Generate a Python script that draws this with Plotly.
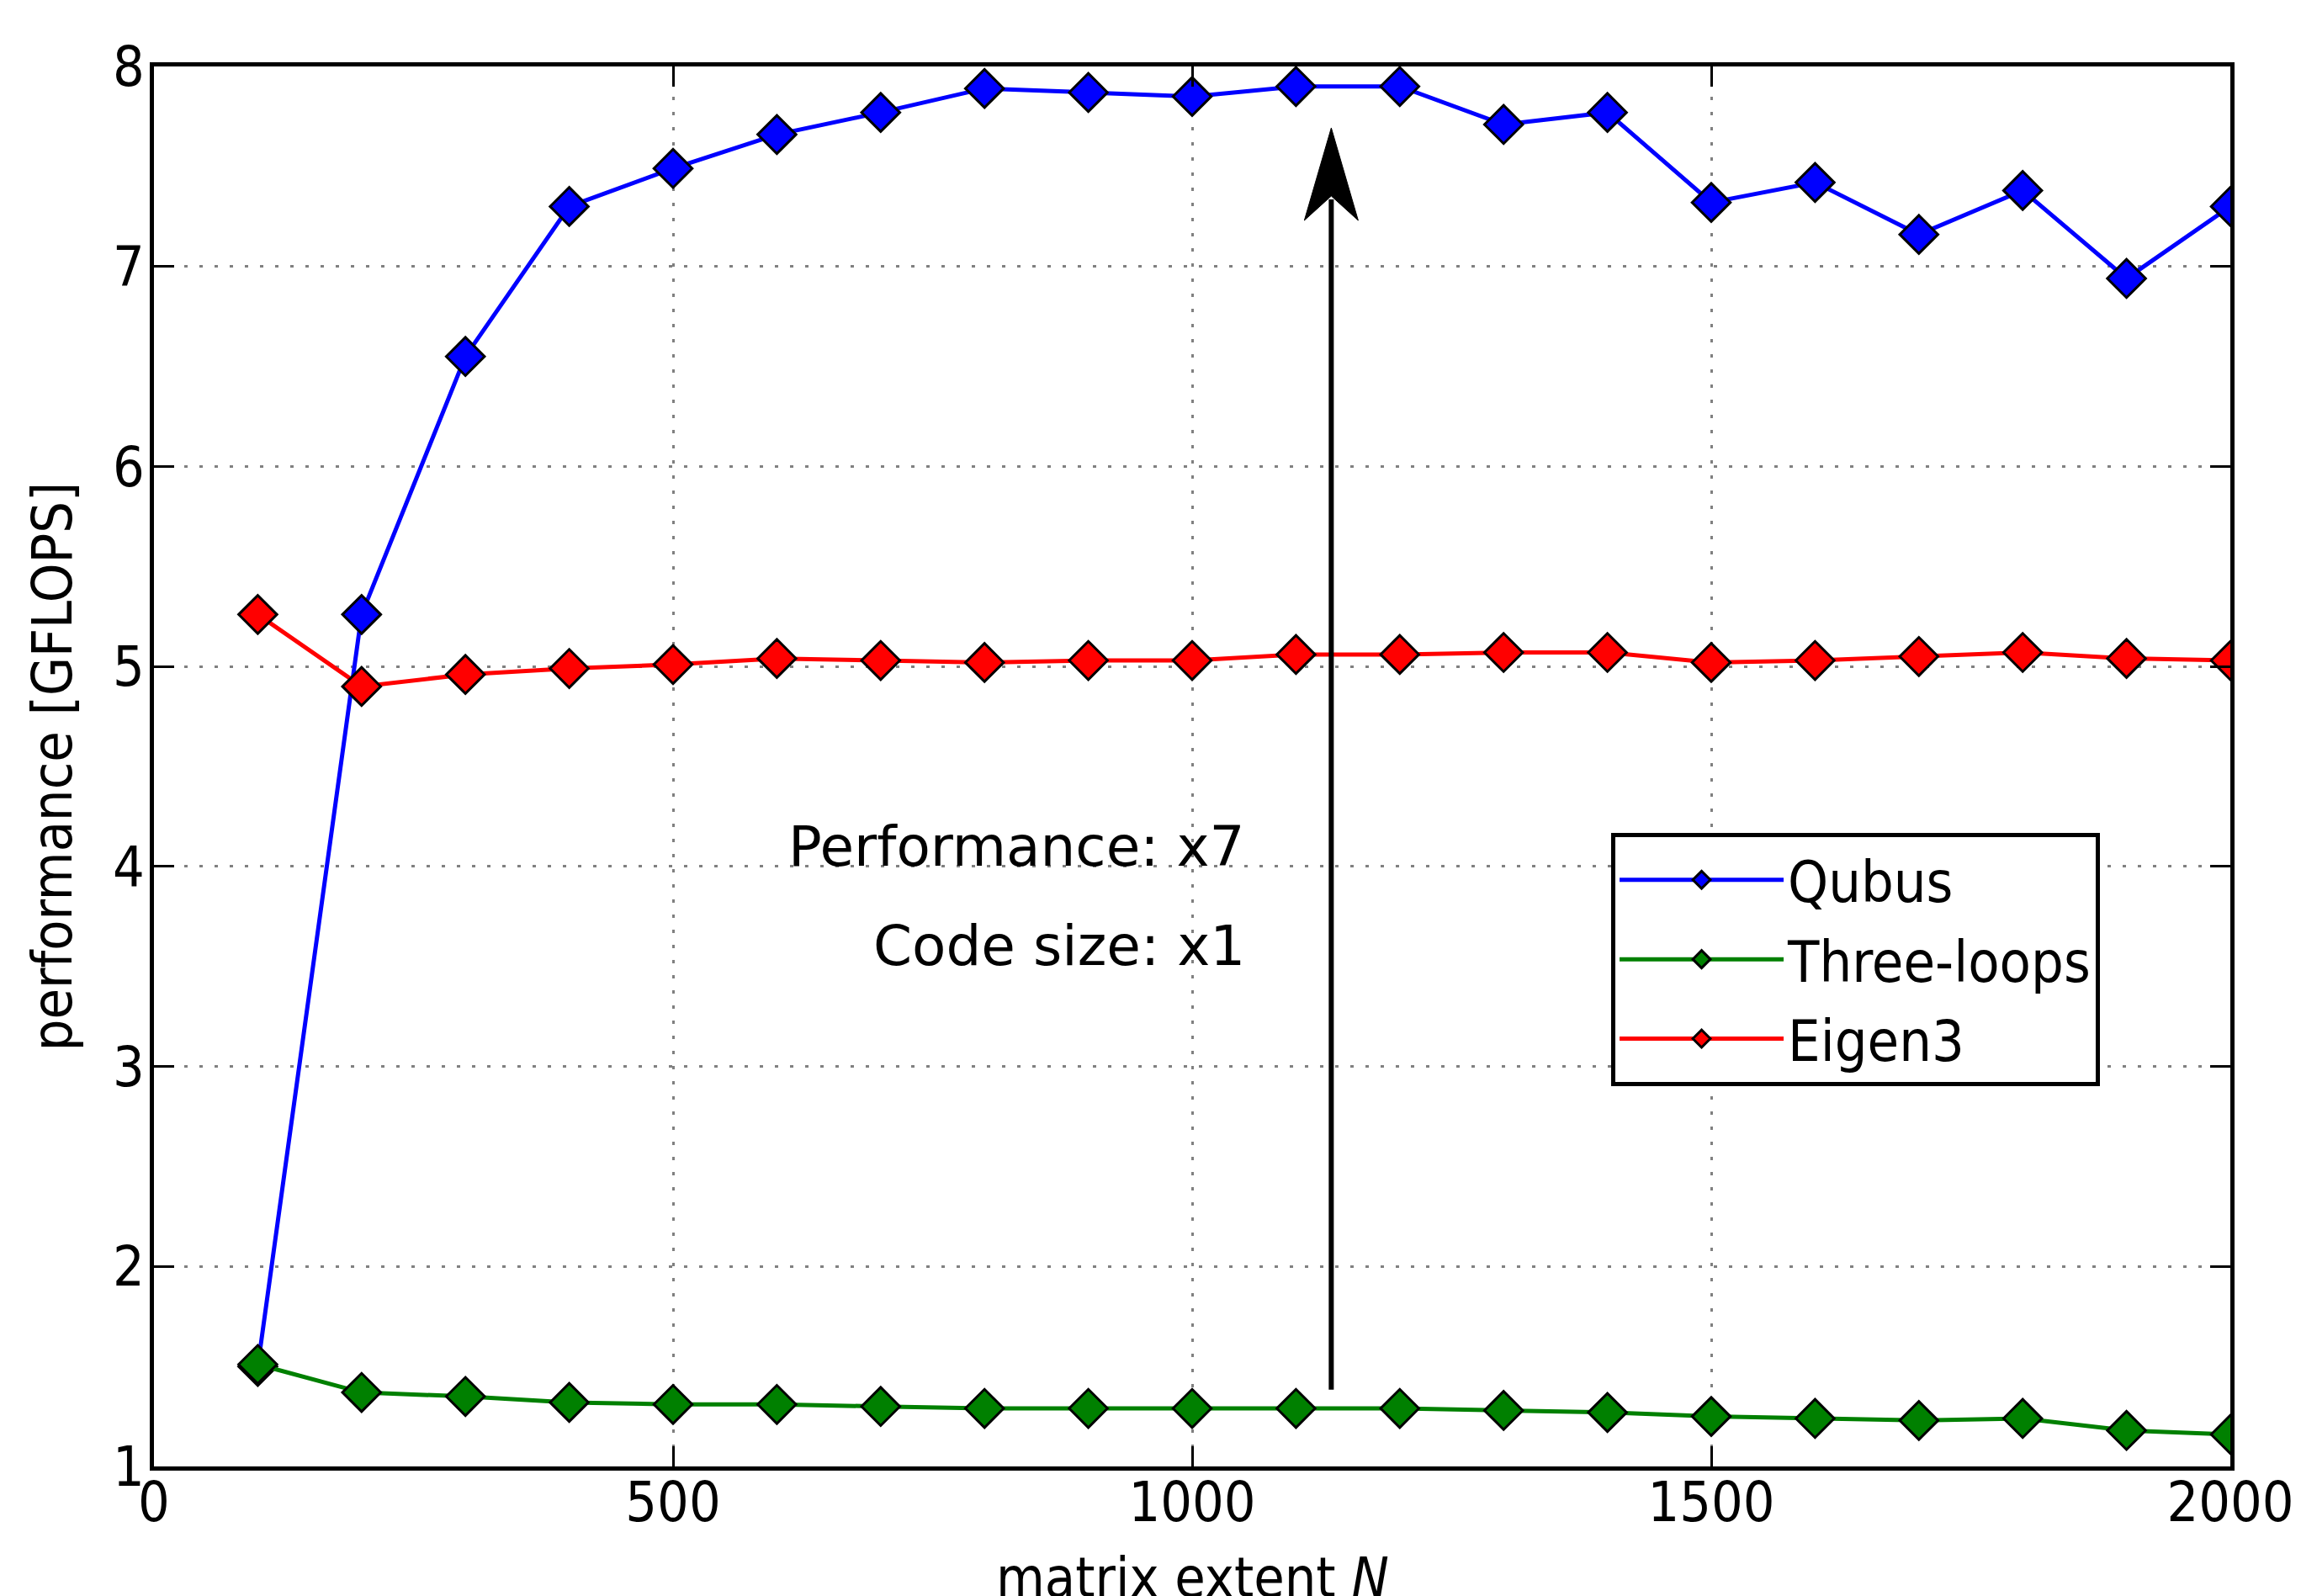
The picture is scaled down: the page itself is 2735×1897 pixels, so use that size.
import plotly.graph_objects as go

# ---- data ----
matrix_n = [100, 200, 300, 400, 500, 600, 700, 800, 900, 1000,
            1100, 1200, 1300, 1400, 1500, 1600, 1700, 1800, 1900, 2000]

qubus = [1.50, 5.26, 6.55, 7.30, 7.49, 7.66, 7.77, 7.89, 7.87, 7.85,
         7.90, 7.90, 7.71, 7.77, 7.32, 7.42, 7.16, 7.38, 6.94, 7.30]

three_loops = [1.51, 1.37, 1.35, 1.32, 1.31, 1.31, 1.30, 1.29, 1.29, 1.29,
               1.29, 1.29, 1.28, 1.27, 1.25, 1.24, 1.23, 1.24, 1.18, 1.16]

eigen3 = [5.26, 4.90, 4.96, 4.99, 5.01, 5.04, 5.03, 5.02, 5.03, 5.03,
          5.06, 5.06, 5.07, 5.07, 5.02, 5.03, 5.05, 5.07, 5.04, 5.03]

series_names = ["Qubus", "Three-loops", "Eigen3"]
series_colors = ["#0000ff", "#008000", "#ff0000"]

x_ticks = [0, 500, 1000, 1500, 2000]
y_ticks = [1, 2, 3, 4, 5, 6, 7, 8]

x_title = "matrix extent <i>N</i>"
y_title = "performance [GFLOPS]"

# annotation arrow (data coordinates)
arrow_x = 1134
arrow_from = 1.378
arrow_to = 7.693

note_x = 1053
notes = [("Performance: x7", 4.10), ("Code size: x1", 3.60)]

# ---- figure ----
# the page adds an 8px body margin, so the figure is 8px smaller than the window
W, H = 2727, 1889
L, R, T, B = 175, 84, 71, 154

COND = "DejaVu Sans Condensed, DejaVu Sans, sans-serif"
REG = "DejaVu Sans, sans-serif"

fig = go.Figure()
for name, ys, col in zip(series_names, [qubus, three_loops, eigen3], series_colors):
    fig.add_trace(go.Scatter(
        x=matrix_n, y=ys, name=name, mode="lines+markers",
        legendgroup=name,
        line=dict(color=col, width=5),
        marker=dict(symbol="diamond", size=35, color=col,
                    line=dict(color="black", width=3)),
        cliponaxis=True,
    ))

axis_common = dict(
    showline=True, linecolor="black", linewidth=5, mirror="ticks",
    ticks="inside", ticklen=24, tickwidth=3, tickcolor="black",
    showgrid=True, gridcolor="#808080", gridwidth=3, griddash="4px,14px",
    zeroline=False, automargin=False,
    tickfont=dict(family=COND, size=66, color="black"),
)

fig.update_xaxes(
    range=[0, 2000], tickvals=x_ticks, ticktext=[str(v) for v in x_ticks],
    ticklabelstandoff=-19,
    **axis_common,
)
fig.update_yaxes(
    range=[1, 8], tickvals=y_ticks, ticktext=[str(v) for v in y_ticks],
    ticklabelstandoff=-7,
    title=dict(text=y_title, font=dict(family=COND, size=66, color="black"),
               standoff=28),
    **axis_common,
)

# x-axis title sits low, partly cut by the bottom edge as in the reference
fig.add_annotation(x=0.5, y=0, xref="paper", yref="paper", text=x_title,
                   showarrow=False, xanchor="center", yanchor="top", yshift=-92,
                   font=dict(family=COND, size=66, color="black"))

for txt, yv in notes:
    fig.add_annotation(x=note_x, y=yv, xref="x", yref="y", text=txt,
                       showarrow=False, xanchor="right", yanchor="middle",
                       font=dict(family=REG, size=66, color="black"))

# arrow shaft (stops below the tip, where the head takes over)
fig.add_annotation(x=arrow_x, y=arrow_to, ax=arrow_x, ay=arrow_from,
                   xref="x", yref="y", axref="x", ayref="y", text="",
                   showarrow=True, arrowhead=0, arrowwidth=6, standoff=85,
                   arrowcolor="black")
# arrow head: long, notched head anchored at the tip, sized in pixels
fig.add_shape(type="path", xref="x", yref="y",
              xsizemode="pixel", ysizemode="pixel",
              xanchor=arrow_x, yanchor=arrow_to,
              path="M0,0 L32,-110 L0,-81 L-32,-110 Z",
              fillcolor="black", line=dict(color="black", width=1))

fig.update_layout(
    width=W, height=H,
    margin=dict(l=L, r=R, t=T, b=B, autoexpand=False),
    paper_bgcolor="white", plot_bgcolor="white",
    font=dict(family=COND, size=66, color="black"),
    showlegend=True,
    legend=dict(x=0.7018, y=0.4525, xanchor="left", yanchor="top",
                bgcolor="white", bordercolor="black", borderwidth=5,
                font=dict(family=COND, size=68, color="black"),
                itemwidth=195, tracegroupgap=3),
)

fig.write_html("out.html")
